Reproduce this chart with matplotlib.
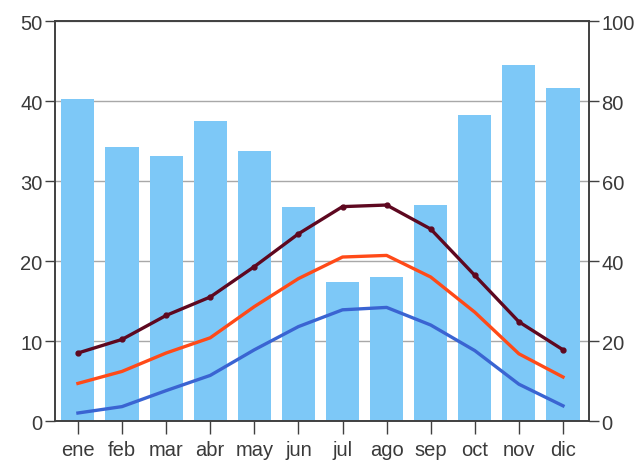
import numpy as np
import matplotlib as mpl
import matplotlib.pyplot as plt

mpl.rcParams['font.family'] = ['Liberation Sans', 'DejaVu Sans']
mpl.rcParams['font.size'] = 12

#-- climate data
months = ['ene', 'feb', 'mar', 'abr', 'may', 'jun', 'jul', 'ago', 'sep', 'oct', 'nov', 'dic']
precip = [80.5, 68.6, 66.2, 75.1, 67.4, 53.5, 34.7, 36.0, 54.0, 76.6, 89.0, 83.2]
t_max = [8.5, 10.2, 13.2, 15.5, 19.3, 23.4, 26.8, 27.0, 24.0, 18.2, 12.4, 8.9]
t_mean = [4.7, 6.2, 8.5, 10.4, 14.3, 17.8, 20.5, 20.7, 18.0, 13.6, 8.4, 5.5]
t_min = [1.0, 1.8, 3.8, 5.7, 8.9, 11.8, 13.9, 14.2, 12.0, 8.8, 4.6, 1.9]

x = np.arange(len(months))
edge = '#404040'

fig = plt.figure(figsize=(6.35, 4.64), dpi=100)
ax = fig.add_axes([0.0866, 0.0905, 0.841, 0.862])
ax2 = ax.twinx()
ax.set_zorder(ax2.get_zorder() + 1)
ax.patch.set_visible(False)

#-- precipitation bars on the right scale
ax2.bar(x, precip, width=0.75, color='#7dc8f7', zorder=2)
ax2.set_ylim(0, 100)
ax2.set_yticks([0, 20, 40, 60, 80, 100])
ax2.grid(axis='y', color='#a8a8a8', linewidth=1)
ax2.set_axisbelow(True)

#-- temperatures on the left scale
ax.plot(x, t_min, color='#3a64d2', lw=2.4)
ax.plot(x, t_mean, color='#ff4a18', lw=2.4)
ax.plot(x, t_max, color='#5e0820', lw=2.4, marker='o', markersize=3.5)
ax.set_ylim(0, 50)
ax.set_yticks([0, 10, 20, 30, 40, 50])
ax.set_xlim(-0.52, 11.59)
ax.set_xticks(x)
ax.set_xticklabels(months)

for a in (ax, ax2):
    for s in a.spines.values():
        s.set_color(edge)
        s.set_linewidth(1.2)
    a.tick_params(direction='out', length=7, width=1, color=edge, labelcolor='#3a3a3a', labelsize=14.5)
ax.tick_params(axis='y', pad=2)
ax2.tick_params(axis='y', pad=2)
ax.tick_params(axis='x', length=9, pad=5)

fig.savefig('out.png', dpi=100)
